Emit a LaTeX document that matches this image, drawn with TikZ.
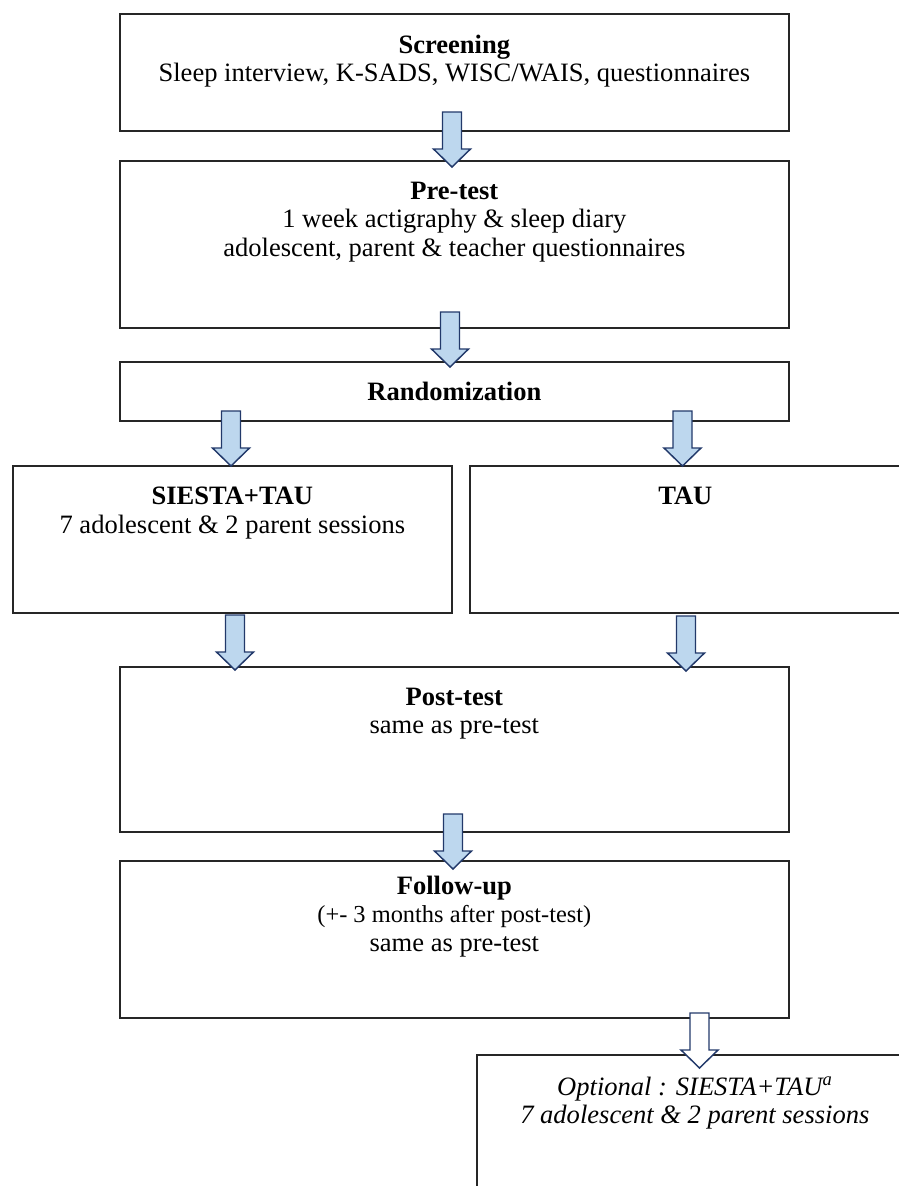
\documentclass[tikz,border=0pt]{standalone}
\usepackage{fontspec}
\setmainfont{Liberation Serif}
\usepackage{tikz}
\usetikzlibrary{calc,positioning}

\definecolor{arrowfill}{HTML}{BDD7EE}
\definecolor{arrowline}{HTML}{22396A}

% block arrow pointing down, #2 = top centre of the shaft
\newcommand{\flowarrow}[2][arrowfill]{%
  \draw[draw=arrowline, fill=#1, line width=1.1pt, line join=miter]
    ($(#2)+(-9.5,0)$) -- ++(0,37) -- ++(-9,0) -- ++(18.5,18)
    -- ++(18.5,-18) -- ++(-9,0) -- ++(0,-37) -- cycle;}

\begin{document}
\begin{tikzpicture}[x=0.75pt,y=-0.75pt,
    box/.style={draw=black!85, line width=1.3pt, anchor=north west, inner sep=0pt},
    boxdim/.style 2 args={minimum width=#1*0.75pt, minimum height=#2*0.75pt},
    boxtext/.style={anchor=north, align=center, inner sep=0pt,
      font=\fontsize{19.9}{21.2}\selectfont}]
  \useasboundingbox (0,0) rectangle (899,1186);
  \clip (0,0) rectangle (899,1186);

  \node[box, boxdim={669}{117}] (screen) at (119,13) {};
  \node[box, boxdim={669}{167}] (pretest) at (119,160) {};
  \node[box, boxdim={669}{59}] (random) at (119,361) {};
  \node[box, boxdim={439}{147}] (siesta) at (12,465) {};
  \node[box, boxdim={431}{147}] (tau) at (469,465) {};
  \node[box, boxdim={669}{165}] (posttest) at (119,666) {};
  \node[box, boxdim={669}{157}] (followup) at (119,860) {};
  \node[box, boxdim={436}{200}] (optional) at (476,1054) {};

  \node[boxtext] (screen-txt) at ($(screen.north)+(0,22)$)
    {\textbf{Screening}\\Sleep interview, K-SADS, WISC/WAIS, questionnaires};
  \node[boxtext] (pretest-txt) at ($(pretest.north)+(0,22)$)
    {\textbf{Pre-test}\\1 week actigraphy \& sleep diary\\adolescent, parent \& teacher questionnaires};
  \node[boxtext, anchor=center] (random-txt) at (random.center) {\textbf{Randomization}};
  \node[boxtext] (siesta-txt) at ($(siesta.north)+(0,22)$)
    {\textbf{SIESTA+TAU}\\7 adolescent \& 2 parent sessions};
  \node[boxtext] (tau-txt) at ($(tau.north)+(0,22)$) {\textbf{TAU}};
  \node[boxtext] (posttest-txt) at ($(posttest.north)+(0,22)$)
    {\textbf{Post-test}\\same as pre-test};
  \node[boxtext] (followup-txt) at ($(followup.north)+(0,16)$)
    {\textbf{Follow-up}\\{\fontsize{18.3}{21.2}\selectfont (+- 3 months after post-test)}\\same as pre-test};
  \node[boxtext] (optional-txt) at ($(optional.north)+(0,22)$)
    {\textit{Optional : SIESTA+TAU\textsuperscript{a}}\\\textit{7 adolescent \& 2 parent sessions}};

  % arrows between the boxes
  \coordinate (a1) at (452,112);
  \coordinate (a2) at (450,312);
  \coordinate (a3) at (231,411);
  \coordinate (a4) at (682.5,411);
  \coordinate (a5) at (235,615);
  \coordinate (a6) at (686,616);
  \coordinate (a7) at (453,814);
  \coordinate (a8) at (699.5,1013);
  \flowarrow{a1}
  \flowarrow{a2}
  \flowarrow{a3}
  \flowarrow{a4}
  \flowarrow{a5}
  \flowarrow{a6}
  \flowarrow{a7}
  \flowarrow[white]{a8}
\end{tikzpicture}
\end{document}
